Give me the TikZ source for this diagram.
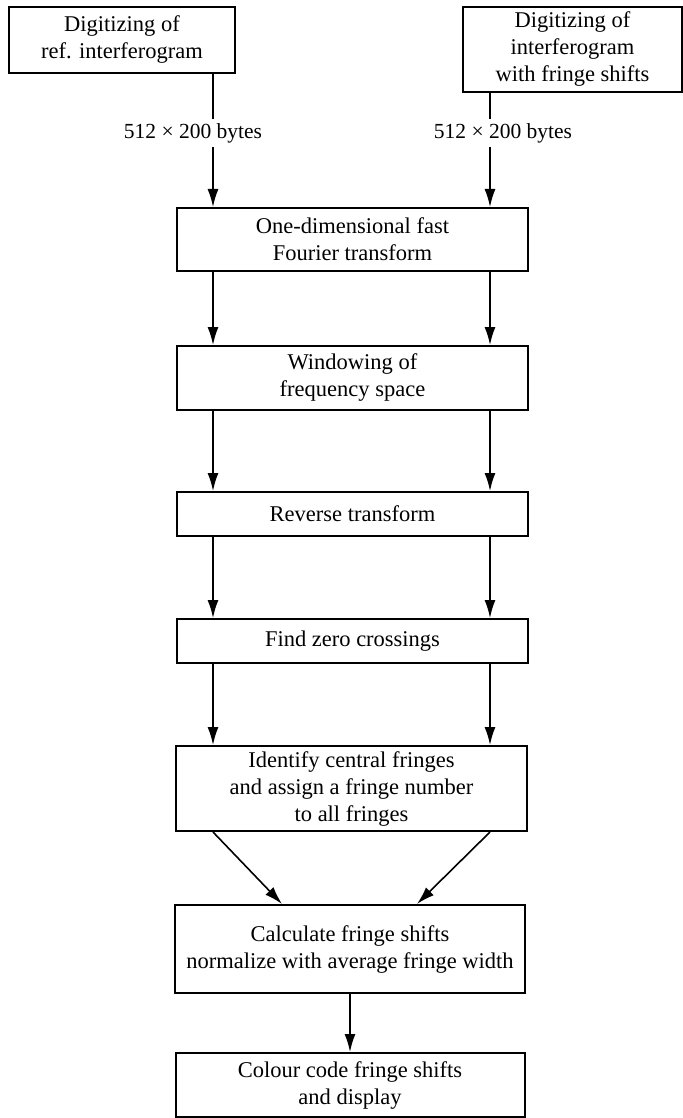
\documentclass[tikz,border=0pt]{standalone}
\usepackage{fontspec}
\setmainfont{Liberation Serif}
\usetikzlibrary{arrows.meta,positioning}
\tikzset{
  procbox/.style={rectangle, draw=black, line width=1pt, align=center, inner sep=1pt, font=\fontsize{11.25}{13.5}\selectfont},
  arrow/.style={-{Latex[length=9pt,width=5.5pt]}, line width=0.8pt},
  bytes/.style={fill=white, inner xsep=1pt, inner ysep=2pt, font=\fontsize{10.75}{13}\selectfont}
}

\begin{document}
\begin{tikzpicture}[x=0.5pt,y=-0.5pt]
  \useasboundingbox (0,0) rectangle (683,1118);
  \coordinate (colL) at (213,0); \coordinate (colR) at (490,0);
  \coordinate (joinL) at (282,0); \coordinate (joinR) at (417,0);
  \node[procbox, minimum width=113pt, minimum height=33pt] (ref) at (122,40) {Digitizing of\\ref. interferogram};
  \node[procbox, minimum width=109.5pt, minimum height=42.5pt] (shift) at (572.5,49.5) {Digitizing of\\interferogram\\with fringe shifts};
  \node[procbox, minimum width=175.5pt, minimum height=31.5pt] (fft) at (352.5,239.5) {One-dimensional fast\\Fourier transform};
  \node[procbox, minimum width=175.5pt, minimum height=32pt] (win) at (352.5,378) {Windowing of\\frequency space};
  \node[procbox, minimum width=175.5pt, minimum height=22pt] (rev) at (352.5,514) {Reverse transform};
  \node[procbox, minimum width=175.5pt, minimum height=22pt] (zero) at (352.5,641) {Find zero crossings};
  \node[procbox, minimum width=175.5pt, minimum height=42.5pt] (ident) at (351.5,788.5) {Identify central fringes\\and assign a fringe number\\to all fringes};
  \node[procbox, minimum width=175pt, minimum height=44pt] (calc) at (350,949) {Calculate fringe shifts\\normalize with average fringe width};
  \node[procbox, minimum width=174.5pt, minimum height=32pt] (show) at (350,1085) {Colour code fringe shifts\\and display};
  \draw[arrow] (ref.south -| colL) -- (fft.north -| colL);
  \draw[arrow] (shift.south -| colR) -- (fft.north -| colR);
  \node[bytes] (bytesL) at (193,133) {512 × 200 bytes};
  \node[bytes] (bytesR) at (503,133) {512 × 200 bytes};
  \draw[arrow] (fft.south -| colL) -- (win.north -| colL); \draw[arrow] (fft.south -| colR) -- (win.north -| colR);
  \draw[arrow] (win.south -| colL) -- (rev.north -| colL); \draw[arrow] (win.south -| colR) -- (rev.north -| colR);
  \draw[arrow] (rev.south -| colL) -- (zero.north -| colL); \draw[arrow] (rev.south -| colR) -- (zero.north -| colR);
  \draw[arrow] (zero.south -| colL) -- (ident.north -| colL); \draw[arrow] (zero.south -| colR) -- (ident.north -| colR);
  \draw[arrow] (ident.south -| colL) -- (calc.north -| joinL); \draw[arrow] (ident.south -| colR) -- (calc.north -| joinR);
  \draw[arrow] (calc) -- (show);
\end{tikzpicture}
\end{document}
